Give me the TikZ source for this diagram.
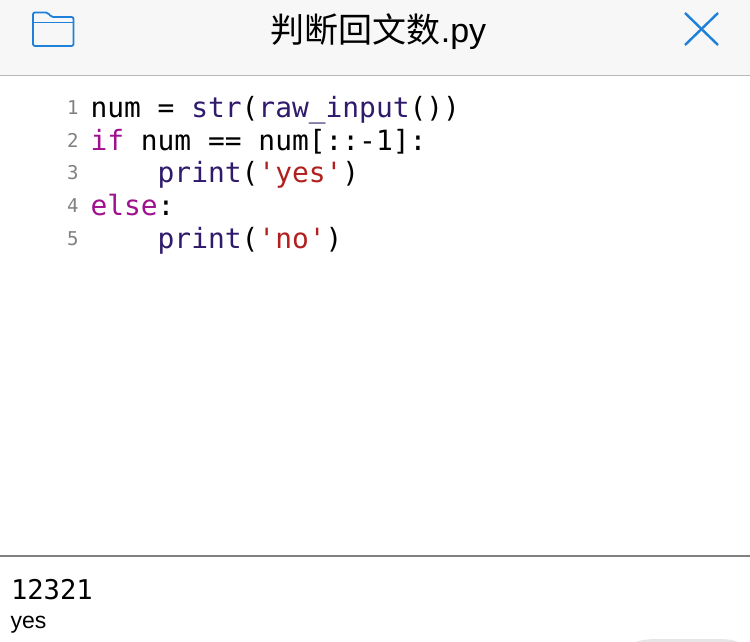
\documentclass[tikz,border=0pt]{standalone}
\usepackage{fontspec}
\usepackage{xcolor}
\setmonofont{DejaVu Sans Mono}
\setmainfont{Liberation Sans}
\newfontfamily\cjkfont{Noto Sans CJK SC}
\usetikzlibrary{positioning}
\definecolor{barfill}{HTML}{F7F7F7}
\definecolor{barline}{HTML}{B8B8B8}
\definecolor{iconblue}{HTML}{1E80D8}
\definecolor{codename}{HTML}{2F1A6B}
\definecolor{codekw}{HTML}{A0118F}
\definecolor{codestr}{HTML}{B21F1F}
\definecolor{linenum}{HTML}{808080}
\newcommand{\nm}[1]{\textcolor{codename}{#1}}
\newcommand{\kw}[1]{\textcolor{codekw}{#1}}
\newcommand{\strlit}[1]{\textcolor{codestr}{#1}}
\newcommand{\ind}{\phantom{....}}

\begin{document}
\begin{tikzpicture}[
    x=1pt, y=-1pt,
    every node/.style={inner sep=0pt, outer sep=0pt},
    codeline/.style={font=\ttfamily\fontsize{27.9pt}{32pt}\selectfont, text height=24pt, text depth=8.7pt},
    numline/.style={font=\ttfamily\fontsize{19pt}{20pt}\selectfont, text=linenum, text height=21pt, text depth=11.7pt},
    icon/.style={draw=iconblue, line width=1.8pt}
]
\useasboundingbox (0,0) rectangle (750,642);
\fill [barfill] (0,0) rectangle (750,75);
\draw [barline, line width=1.5pt] (0,75.5) -- (750,75.5);
\draw [linenum, line width=2pt] (0,555.5) -- (750,555.5);
% title bar
\node (TITLE) [anchor=base, font=\fontsize{34pt}{36pt}\selectfont] at (378.5,42.5) {{\cjkfont 判断回文数}.py};
\draw [icon, rounded corners=2pt] (33,46) -- (33,12.5) -- (48,12.5) -- (51,17) -- (73.5,17) -- (73.5,46) -- cycle;
\draw [icon] (33,22.5) -- (73.5,22.5);
\draw [icon, line width=2.4pt] (685,13) -- (718,45);
\draw [icon, line width=2.4pt] (718,13) -- (685,45);
% code
\node (LINEA) [codeline, anchor=north west] at (90.5,93.3) {num = \nm{str}(\nm{raw\_input}())};
\node (LINEB) [codeline, below right=0pt and 0pt of LINEA.south west] {\kw{if} num == num[::-1]:};
\node (LINEC) [codeline, below right=0pt and 0pt of LINEB.south west] {\ind\nm{print}(\strlit{'yes'})};
\node (LINED) [codeline, below right=0pt and 0pt of LINEC.south west] {\kw{else}:};
\node (LINEE) [codeline, below right=0pt and 0pt of LINED.south west] {\ind\nm{print}(\strlit{'no'})};
\node (NUMA) [numline, left=12pt of LINEA.west] {1};
\node (NUMB) [numline, left=12pt of LINEB.west] {2};
\node (NUMC) [numline, left=12pt of LINEC.west] {3};
\node (NUMD) [numline, left=12pt of LINED.west] {4};
\node (NUME) [numline, left=12pt of LINEE.west] {5};
% console
\node (INPUT) [anchor=base west, font=\ttfamily\fontsize{27.2pt}{30pt}\selectfont] at (11,599) {12321};
\node (OUTPUT) [anchor=base west, font=\fontsize{23pt}{26pt}\selectfont] at (10.5,628) {yes};
\fill [black!10] (636,642) .. controls (642,639.5) and (650,639) .. (660,639) -- (715,639) .. controls (725,639) and (733,639.5) .. (738,642) -- cycle;
\end{tikzpicture}
\end{document}
